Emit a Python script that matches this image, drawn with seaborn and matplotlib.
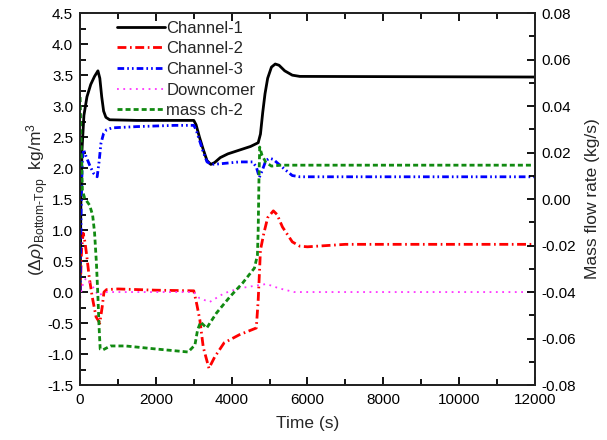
import matplotlib
matplotlib.use("Agg")
import matplotlib.pyplot as plt
from matplotlib.ticker import MultipleLocator, FormatStrFormatter
import seaborn as sns

# data (time in s)
t_ch1 = [0, 20, 50, 100, 180, 280, 380, 470, 520, 570, 620, 680, 780, 1500, 3000,
         3060, 3150, 3250, 3350, 3450, 3550, 3700, 3900, 4200, 4500, 4700, 4760,
         4820, 4880, 4950, 5050, 5150, 5250, 5400, 5600, 5800, 12000]
ch1 = [0.0, 1.4, 2.3, 2.85, 3.15, 3.35, 3.48, 3.57, 3.45, 3.15, 2.92, 2.82, 2.78, 2.77, 2.77,
       2.7, 2.5, 2.3, 2.12, 2.06, 2.09, 2.17, 2.23, 2.29, 2.35, 2.41, 2.55,
       2.9, 3.2, 3.45, 3.63, 3.68, 3.66, 3.57, 3.5, 3.48, 3.47]

t_ch2 = [0, 40, 80, 130, 180, 240, 320, 420, 520, 580, 630, 700, 1000, 2000, 3000,
         3080, 3160, 3250, 3400, 3550, 3800, 4200, 4650, 4700, 4760, 4850, 4950,
         5100, 5200, 5340, 5600, 5800, 6000, 7000, 12000]
ch2 = [0.0, 0.7, 0.95, 0.8, 0.56, 0.24, -0.08, -0.4, -0.5, -0.25, 0.0, 0.04, 0.05, 0.03, 0.02,
       -0.2, -0.45, -0.89, -1.23, -1.05, -0.82, -0.69, -0.58, -0.13, 0.68, 0.95, 1.2,
       1.31, 1.25, 1.05, 0.81, 0.74, 0.73, 0.77, 0.77]

t_ch3 = [0, 30, 60, 90, 150, 250, 350, 450, 500, 550, 620, 700, 850, 1500, 2500, 3000,
         3060, 3150, 3250, 3350, 3470, 3700, 4200, 4550, 4650, 4730, 4800, 4900,
         5000, 5100, 5250, 5400, 5600, 5800, 12000]
ch3 = [0.0, 1.5, 2.15, 2.3, 2.2, 2.05, 1.92, 1.86, 2.1, 2.4, 2.56, 2.62, 2.65, 2.67, 2.69, 2.69,
       2.62, 2.45, 2.26, 2.1, 2.06, 2.07, 2.1, 2.1, 2.02, 1.85, 1.95, 2.12,
       2.16, 2.14, 2.06, 1.98, 1.88, 1.86, 1.86]

t_dc = [0, 60, 150, 300, 420, 500, 580, 700, 3000, 3150, 3420, 3800, 4200, 4600,
        4920, 5250, 5650, 12000]
dc = [-0.1, 0.1, 0.22, 0.12, 0.0, -0.06, -0.02, 0.0, 0.0, -0.1, -0.16, -0.02, 0.06, 0.1,
      0.13, 0.06, 0.0, 0.0]

# mass flow of channel 2 (kg/s, right axis)
t_m2 = [0, 30, 60, 120, 250, 330, 380, 430, 470, 500, 530, 600, 800, 1200, 2000, 2850,
        3030, 3100, 3180, 3340, 3600, 3950, 4290, 4600, 4680, 4700, 4720, 4740,
        4800, 4900, 5050, 5300, 12000]
m2 = [0.0439, 0.0211, 0.0039, 0.0004, -0.0026, -0.0069, -0.0142, -0.0275, -0.0421, -0.0550,
      -0.0645, -0.0649, -0.0632, -0.0632, -0.0645, -0.0658,
      -0.0628, -0.0563, -0.0529, -0.0555, -0.0490, -0.0421, -0.0361, -0.0297, -0.0241,
      -0.0133, 0.0082, 0.0224, 0.0189, 0.0159, 0.0142, 0.0146, 0.0146]

sns.set_style("ticks")
plt.rcParams['font.family'] = ['Liberation Sans', 'DejaVu Sans']
plt.rcParams['mathtext.fontset'] = 'custom'
plt.rcParams['mathtext.rm'] = 'Liberation Sans'
plt.rcParams['mathtext.it'] = 'Liberation Sans:italic'
plt.rcParams['axes.unicode_minus'] = False
plt.rcParams['xtick.direction'] = 'in'
plt.rcParams['ytick.direction'] = 'in'

fig, ax = plt.subplots(figsize=(6.07, 4.40), dpi=100)
fig.subplots_adjust(left=0.132, right=0.881, top=0.970, bottom=0.125)
ax2 = ax.twinx()

kw = dict(estimator=None, sort=False)
sns.lineplot(x=t_ch1, y=ch1, ax=ax, color='black', lw=2, label='Channel-1', **kw)
sns.lineplot(x=t_ch2, y=ch2, ax=ax, color='#ff0000', lw=2,
             linestyle=(0, (3.2, 1.3, 0.6, 1.3)), label='Channel-2', **kw)
sns.lineplot(x=t_ch3, y=ch3, ax=ax, color='#0000ff', lw=2,
             linestyle=(0, (2.4, 1.1, 0.6, 1.1, 0.6, 1.1)), label='Channel-3', **kw)
sns.lineplot(x=t_dc, y=dc, ax=ax, color='#ff33ff', lw=1.3,
             linestyle=(0, (1, 2.5)), label='Downcomer', **kw)
sns.lineplot(x=t_m2, y=m2, ax=ax2, color='#118a11', lw=2,
             linestyle=(0, (1.8, 1.1)), label='mass ch-2', **kw)

ax.set_xlim(0, 12000)
ax.set_ylim(-1.5, 4.5)
ax2.set_ylim(-0.08, 0.08)

ax.xaxis.set_major_locator(MultipleLocator(2000))
ax.xaxis.set_minor_locator(MultipleLocator(1000))
ax.yaxis.set_major_locator(MultipleLocator(0.5))
ax.yaxis.set_minor_locator(MultipleLocator(0.25))
ax.yaxis.set_major_formatter(FormatStrFormatter('%.1f'))
ax2.yaxis.set_major_locator(MultipleLocator(0.02))
ax2.yaxis.set_minor_locator(MultipleLocator(0.01))
ax2.yaxis.set_major_formatter(FormatStrFormatter('%.2f'))

for a in (ax, ax2):
    a.tick_params(which='both', direction='in', labelsize=11, width=1.3,
                  color='black', labelcolor='black')
    a.tick_params(which='major', length=6)
    a.tick_params(which='minor', length=4)
    for s in a.spines.values():
        s.set_linewidth(1.3)
        s.set_color('#222222')
ax.tick_params(which='both', top=True, bottom=True, left=True, right=False)
ax2.tick_params(which='both', right=True)
ax.tick_params(axis='x', which='major', pad=6)
ax.tick_params(axis='y', which='major', pad=5)
ax2.tick_params(axis='y', which='major', pad=5)

ax.set_xlabel('Time (s)', fontsize=12.5, labelpad=6)
ax.set_ylabel('($\\Delta\\rho$)$_{\\rm Bottom\u2010Top}$  kg/m$^3$', fontsize=12.5, labelpad=-3)
ax2.set_ylabel('Mass flow rate (kg/s)', fontsize=12.5, labelpad=6)

# one legend for both axes
h1, l1 = ax.get_legend_handles_labels()
h2, l2 = ax2.get_legend_handles_labels()
ax2.get_legend().remove()
ax.legend(h1 + h2, l1 + l2, loc='upper left', bbox_to_anchor=(0.052, 1.016),
          frameon=False, fontsize=12, handlelength=2.9, labelspacing=0.34,
          handletextpad=0.05, borderpad=0.3)

plt.savefig('out.png', dpi=100)
